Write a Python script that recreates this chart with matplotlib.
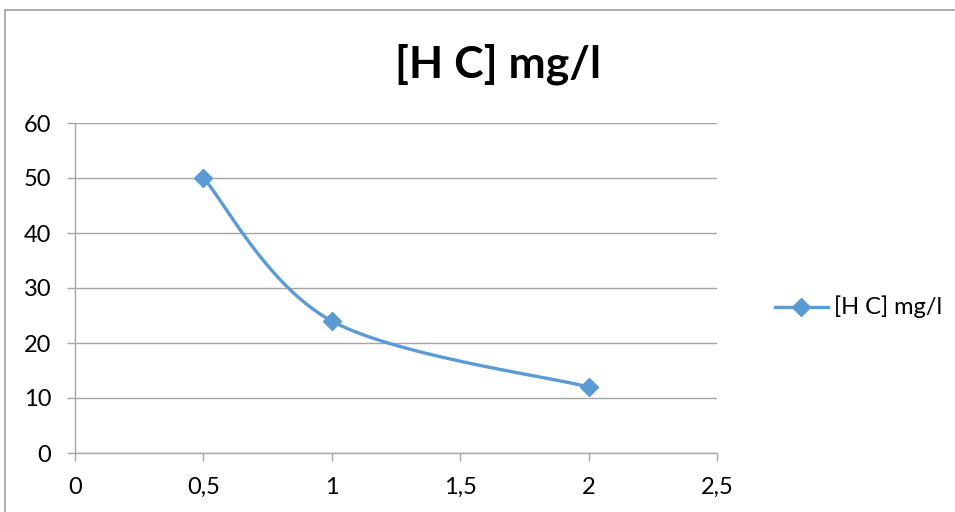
import numpy as np
import matplotlib.pyplot as plt
from matplotlib.patches import Rectangle

x_vals = [0.5, 1, 2]
hc_vals = [50, 24, 12]
x_ticks = [0, 0.5, 1, 1.5, 2, 2.5]
x_labels = ["0", "0,5", "1", "1,5", "2", "2,5"]
y_ticks = [0, 10, 20, 30, 40, 50, 60]
title = "[H C] mg/l"

plt.rcParams['font.family'] = ['Lato', 'DejaVu Sans']
BLUE = "#5B9BD5"
GRID = "#A6A6A6"


def smooth(xs, ys, n=60):
    # Excel-like smoothed line: cubic bezier with catmull-rom control points
    p = np.column_stack([xs, ys]).astype(float)
    p = np.vstack([p[0], p, p[-1]])
    out = []
    for i in range(1, len(p) - 2):
        p0, p1, p2, p3 = p[i - 1], p[i], p[i + 1], p[i + 2]
        c1 = p1 + (p2 - p0) / 6
        c2 = p2 - (p3 - p1) / 6
        t = np.linspace(0, 1, n)[:, None]
        seg = (1 - t) ** 3 * p1 + 3 * (1 - t) ** 2 * t * c1 + 3 * (1 - t) * t ** 2 * c2 + t ** 3 * p2
        out.append(seg)
    seg = np.vstack(out)
    return seg[:, 0], seg[:, 1]


fig = plt.figure(figsize=(9.55, 5.12), dpi=100)
fig.patches.append(Rectangle((5 / 955, -0.1), 1.1, (512 - 10) / 512 + 0.1,
                             transform=fig.transFigure, fill=False,
                             edgecolor="#A0A0A0", linewidth=1.2))

ax = fig.add_axes([75 / 955, (512 - 453) / 512, (717 - 75) / 955, (453 - 123) / 512])
sx, sy = smooth(x_vals, hc_vals)
ax.plot(sx, sy, color=BLUE, linewidth=2.4, solid_capstyle="round", zorder=3)
ax.plot(x_vals, hc_vals, linestyle="none", marker="D", markersize=9,
        color=BLUE, zorder=4)

ax.set_xlim(0, 2.5)
ax.set_ylim(0, 60)
ax.set_xticks(x_ticks)
ax.set_xticklabels(x_labels)
ax.set_yticks(y_ticks)
ax.grid(axis="y", color=GRID, linewidth=1)
ax.set_axisbelow(True)
for s in ["top", "right"]:
    ax.spines[s].set_visible(False)
for s in ["left", "bottom"]:
    ax.spines[s].set_color(GRID)
    ax.spines[s].set_linewidth(1)
ax.tick_params(axis="both", colors=GRID, labelcolor="black", labelsize=17,
               length=6, width=1)
ax.tick_params(axis="x", pad=11)
ax.tick_params(axis="y", pad=11)

fig.text(498 / 955, 1 - 64 / 512, title, ha="center", va="center",
         fontsize=32, fontweight="bold")

# legend
fig.lines.append(plt.Line2D([775 / 955, 828 / 955], [1 - 307 / 512] * 2,
                            transform=fig.transFigure, color=BLUE, linewidth=2.4))
fig.lines.append(plt.Line2D([801 / 955], [1 - 307 / 512], transform=fig.transFigure,
                            marker="D", markersize=9, color=BLUE, linestyle="none"))
fig.text(834 / 955, 1 - 307 / 512, title, ha="left", va="center", fontsize=17)

fig.savefig("out.png", dpi=100)
